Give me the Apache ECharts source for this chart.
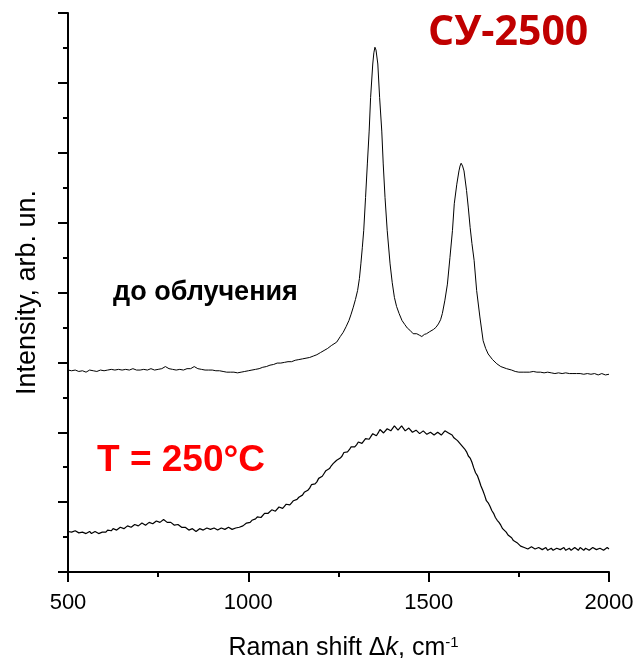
<!DOCTYPE html>
<html>
<head>
<meta charset="utf-8">
<script src="https://cdn.jsdelivr.net/npm/echarts@6/dist/echarts.min.js"></script>
<style>
html,body{margin:0;padding:0;background:#fff;}
#chart{width:637px;height:658px;}
</style>
</head>
<body>
<div id="chart"></div>
<script>
// X-axis ticks and labels
var xTicks = [500, 1000, 1500, 2000];

// Spectrum before irradiation ("до облучения")
var shiftBefore = [500,510,520,530,540,550,560,570,580,590,600,610,620,630,640,650,660,670,680,690,700,710,720,730,740,750,760,770,780,790,800,810,820,830,840,850,860,870,880,890,900,910,920,930,940,950,960,970,980,990,1000,1010,1020,1030,1040,1050,1060,1070,1080,1090,1100,1110,1120,1130,1140,1150,1160,1170,1180,1190,1200,1210,1220,1230,1245,1255,1263,1271,1279,1285,1291,1297,1303,1308,1312,1316,1320,1325,1330,1335,1339,1345,1348,1351,1354,1359,1364,1370,1374,1379,1385,1393,1399,1405,1411,1418,1426,1434,1441,1448,1457,1467,1474,1481,1488,1494,1503,1513,1520,1527,1533,1538,1545,1552,1559,1566,1571,1578,1584,1587,1590,1594,1598,1605,1610,1615,1620,1626,1633,1642,1651,1658,1665,1677,1689,1700,1716,1730,1740,1750,1762,1770,1780,1790,1800,1810,1820,1830,1840,1850,1860,1870,1880,1890,1900,1910,1920,1930,1940,1950,1960,1970,1980,1990,2000];
var intensityBefore = [2.89,2.88,2.89,2.87,2.88,2.86,2.89,2.88,2.87,2.89,2.88,2.89,2.90,2.89,2.90,2.89,2.90,2.89,2.91,2.89,2.89,2.90,2.89,2.91,2.89,2.90,2.91,2.94,2.91,2.90,2.89,2.90,2.89,2.91,2.91,2.94,2.91,2.90,2.89,2.89,2.89,2.88,2.88,2.87,2.86,2.86,2.86,2.85,2.86,2.87,2.88,2.89,2.90,2.91,2.93,2.94,2.96,2.97,2.99,2.99,3.00,3.01,3.01,3.03,3.04,3.05,3.06,3.07,3.09,3.11,3.14,3.17,3.20,3.24,3.29,3.37,3.43,3.51,3.60,3.69,3.79,3.90,4.03,4.20,4.41,4.64,4.89,5.36,5.84,6.31,6.79,7.27,7.43,7.51,7.47,7.27,6.79,6.31,5.84,5.36,4.89,4.41,4.14,3.93,3.80,3.70,3.60,3.54,3.49,3.46,3.41,3.41,3.39,3.37,3.40,3.41,3.44,3.47,3.50,3.55,3.61,3.70,3.89,4.12,4.50,4.89,5.27,5.55,5.74,5.81,5.85,5.81,5.74,5.46,5.21,4.93,4.70,4.46,4.03,3.65,3.31,3.20,3.12,3.04,2.98,2.94,2.91,2.89,2.87,2.86,2.86,2.86,2.86,2.87,2.86,2.86,2.85,2.86,2.85,2.84,2.85,2.84,2.85,2.84,2.84,2.84,2.84,2.83,2.84,2.83,2.84,2.82,2.84,2.82,2.83];

// Spectrum after irradiation at T = 250°C
var shiftT250 = [
  500,505,510,515,520,525,530,535,540,545,
  550,555,560,565,570,575,580,585,590,595,
  600,605,610,615,620,625,630,635,640,645,
  650,655,660,665,670,675,680,685,690,695,
  700,705,710,715,720,725,730,735,740,745,
  750,755,760,765,770,775,780,785,790,795,
  800,805,810,815,820,825,830,835,840,845,
  850,855,860,865,870,875,880,885,890,895,
  900,905,910,915,920,925,930,935,940,945,
  950,955,960,965,970,975,980,985,990,995,
  1000,1005,1010,1015,1020,1025,1030,1035,1040,1045,
  1050,1055,1060,1065,1070,1075,1080,1085,1090,1095,
  1100,1105,1110,1115,1120,1125,1130,1135,1140,1145,
  1150,1155,1160,1165,1170,1175,1180,1185,1190,1195,
  1200,1205,1210,1215,1220,1225,1230,1235,1240,1245,
  1250,1255,1260,1265,1270,1275,1280,1285,1290,1295,
  1300,1305,1310,1315,1320,1325,1330,1335,1340,1345,
  1350,1355,1360,1365,1370,1375,1380,1385,1390,1395,
  1400,1405,1410,1415,1420,1425,1430,1435,1440,1445,
  1450,1455,1460,1465,1470,1475,1480,1485,1490,1495,
  1500,1505,1510,1515,1520,1525,1530,1535,1540,1545,
  1550,1555,1560,1565,1570,1575,1580,1585,1590,1595,
  1600,1605,1610,1615,1620,1625,1630,1635,1640,1645,
  1650,1655,1660,1665,1670,1675,1680,1685,1690,1695,
  1700,1705,1710,1715,1720,1725,1730,1735,1740,1745,
  1750,1755,1760,1765,1770,1775,1780,1785,1790,1795,
  1800,1805,1810,1815,1820,1825,1830,1835,1840,1845,
  1850,1855,1860,1865,1870,1875,1880,1885,1890,1895,
  1900,1905,1910,1915,1920,1925,1930,1935,1940,1945,
  1950,1955,1960,1965,1970,1975,1980,1985,1990,1995,
  2000];
var intensityT250 = [
  0.58,0.56,0.57,0.59,0.59,0.57,0.56,0.58,0.57,0.56,
  0.55,0.57,0.58,0.55,0.56,0.58,0.57,0.55,0.55,0.57,
  0.58,0.57,0.60,0.58,0.59,0.62,0.62,0.60,0.61,0.64,
  0.64,0.62,0.63,0.66,0.66,0.64,0.65,0.68,0.68,0.66,
  0.67,0.70,0.69,0.67,0.68,0.71,0.71,0.69,0.70,0.73,
  0.73,0.71,0.72,0.75,0.74,0.71,0.70,0.71,0.69,0.67,
  0.66,0.68,0.67,0.64,0.63,0.64,0.62,0.60,0.60,0.62,
  0.61,0.58,0.59,0.62,0.62,0.60,0.61,0.63,0.63,0.61,
  0.60,0.63,0.62,0.60,0.61,0.63,0.64,0.61,0.62,0.64,
  0.63,0.61,0.61,0.63,0.64,0.64,0.66,0.66,0.68,0.70,
  0.71,0.71,0.74,0.73,0.76,0.79,0.81,0.78,0.80,0.84,
  0.85,0.84,0.86,0.89,0.90,0.87,0.89,0.93,0.93,0.91,
  0.94,0.97,0.98,0.96,0.99,1.02,1.03,1.04,1.07,1.07,
  1.10,1.14,1.16,1.17,1.20,1.25,1.27,1.26,1.29,1.34,
  1.36,1.37,1.41,1.45,1.46,1.48,1.52,1.55,1.56,1.60,
  1.62,1.63,1.66,1.71,1.73,1.72,1.75,1.79,1.80,1.79,
  1.82,1.86,1.87,1.84,1.86,1.91,1.92,1.90,1.94,1.98,
  1.97,1.95,1.99,2.04,2.03,1.99,2.00,2.05,2.06,2.02,
  2.04,2.09,2.08,2.03,2.05,2.09,2.07,2.02,2.01,2.06,
  2.05,2.00,1.98,2.03,2.02,1.98,1.97,2.02,2.01,1.97,
  1.96,2.00,1.99,1.96,1.95,2.00,2.00,1.96,1.97,2.02,
  2.01,1.99,1.98,1.96,1.92,1.91,1.88,1.86,1.82,1.80,
  1.76,1.72,1.66,1.63,1.57,1.49,1.42,1.38,1.31,1.23,
  1.17,1.10,1.02,0.99,0.94,0.88,0.84,0.78,0.74,0.71,
  0.67,0.62,0.60,0.57,0.53,0.52,0.49,0.45,0.43,0.42,
  0.40,0.37,0.37,0.35,0.36,0.33,0.34,0.36,0.35,0.33,
  0.32,0.35,0.34,0.32,0.33,0.35,0.31,0.33,0.34,0.31,
  0.32,0.34,0.35,0.32,0.33,0.35,0.31,0.33,0.34,0.31,
  0.32,0.35,0.33,0.31,0.35,0.33,0.31,0.34,0.33,0.31,
  0.32,0.35,0.35,0.32,0.31,0.34,0.34,0.31,0.32,0.35,
  0.33];

function zip(xs, ys){ return xs.map(function(x,i){ return [x, ys[i]]; }); }

var chart = echarts.init(document.getElementById('chart'), null, {renderer:'canvas'});
var axisColor = '#000';
chart.setOption({
  animation: false,
  backgroundColor: '#fff',
  grid: {left: 68, right: 28, top: 13, bottom: 86, containLabel: false, outerBoundsMode: 'none'},
  xAxis: {
    type: 'value', min: xTicks[0], max: xTicks[xTicks.length-1], interval: 500,
    name: '{n|Raman shift Δ}{i|k}{n|, cm}{s|-1}',
    nameLocation: 'middle', nameGap: 63,
    nameTextStyle: {
      padding: [0, 0, 0, 10],
      rich: {
        n: {fontFamily: 'Liberation Sans', fontSize: 25, color: '#000'},
        i: {fontFamily: 'Liberation Sans', fontSize: 25, fontStyle: 'italic', color: '#000'},
        s: {fontFamily: 'Liberation Sans', fontSize: 15, color: '#000', verticalAlign: 'top', padding: [0,0,12,0]}
      }
    },
    axisLine: {show: true, onZero: false, lineStyle: {color: axisColor, width: 2}},
    axisTick: {show: true, length: 10, lineStyle: {color: axisColor, width: 2}},
    minorTick: {show: true, splitNumber: 2, length: 5, lineStyle: {color: axisColor, width: 2}},
    axisLabel: {show: true, margin: 20, fontFamily: 'Liberation Sans', fontSize: 22, color: '#000',
      formatter: function (v) { return String(v); }},
    splitLine: {show: false}
  },
  yAxis: {
    type: 'value', min: 0, max: 8, interval: 1,
    name: 'Intensity, arb. un.',
    nameLocation: 'middle', nameGap: 27,
    nameTextStyle: {fontFamily: 'Liberation Sans', fontSize: 27, color: '#000'},
    axisLine: {show: true, onZero: false, lineStyle: {color: axisColor, width: 2}},
    axisTick: {show: true, length: 10, lineStyle: {color: axisColor, width: 2}},
    minorTick: {show: true, splitNumber: 2, length: 5, lineStyle: {color: axisColor, width: 2}},
    axisLabel: {show: false},
    splitLine: {show: false}
  },
  series: [
    {
      name: 'до облучения', type: 'line', data: zip(shiftBefore, intensityBefore),
      showSymbol: false, symbol: 'none', smooth: false,
      lineStyle: {color: '#000', width: 1}
    },
    {
      name: 'T = 250°C', type: 'line', data: zip(shiftT250, intensityT250),
      showSymbol: false, symbol: 'none', smooth: false,
      lineStyle: {color: '#000', width: 1.2}
    }
  ],
  graphic: [
    {type: 'text', x: 428, y: 33, style: {text: 'СУ-2500', font: 'bold 41px "Open Sans"', fill: '#c00000', align: 'left', verticalAlign: 'middle'}},
    {type: 'text', x: 113, y: 293, style: {text: 'до облучения', font: 'bold 27px "Liberation Sans"', fill: '#000', align: 'left', verticalAlign: 'middle'}},
    {type: 'text', x: 97, y: 461, style: {text: 'T = 250°C', font: 'bold 37px "Liberation Sans"', fill: '#ff0000', align: 'left', verticalAlign: 'middle'}}
  ]
});
</script>
</body>
</html>
